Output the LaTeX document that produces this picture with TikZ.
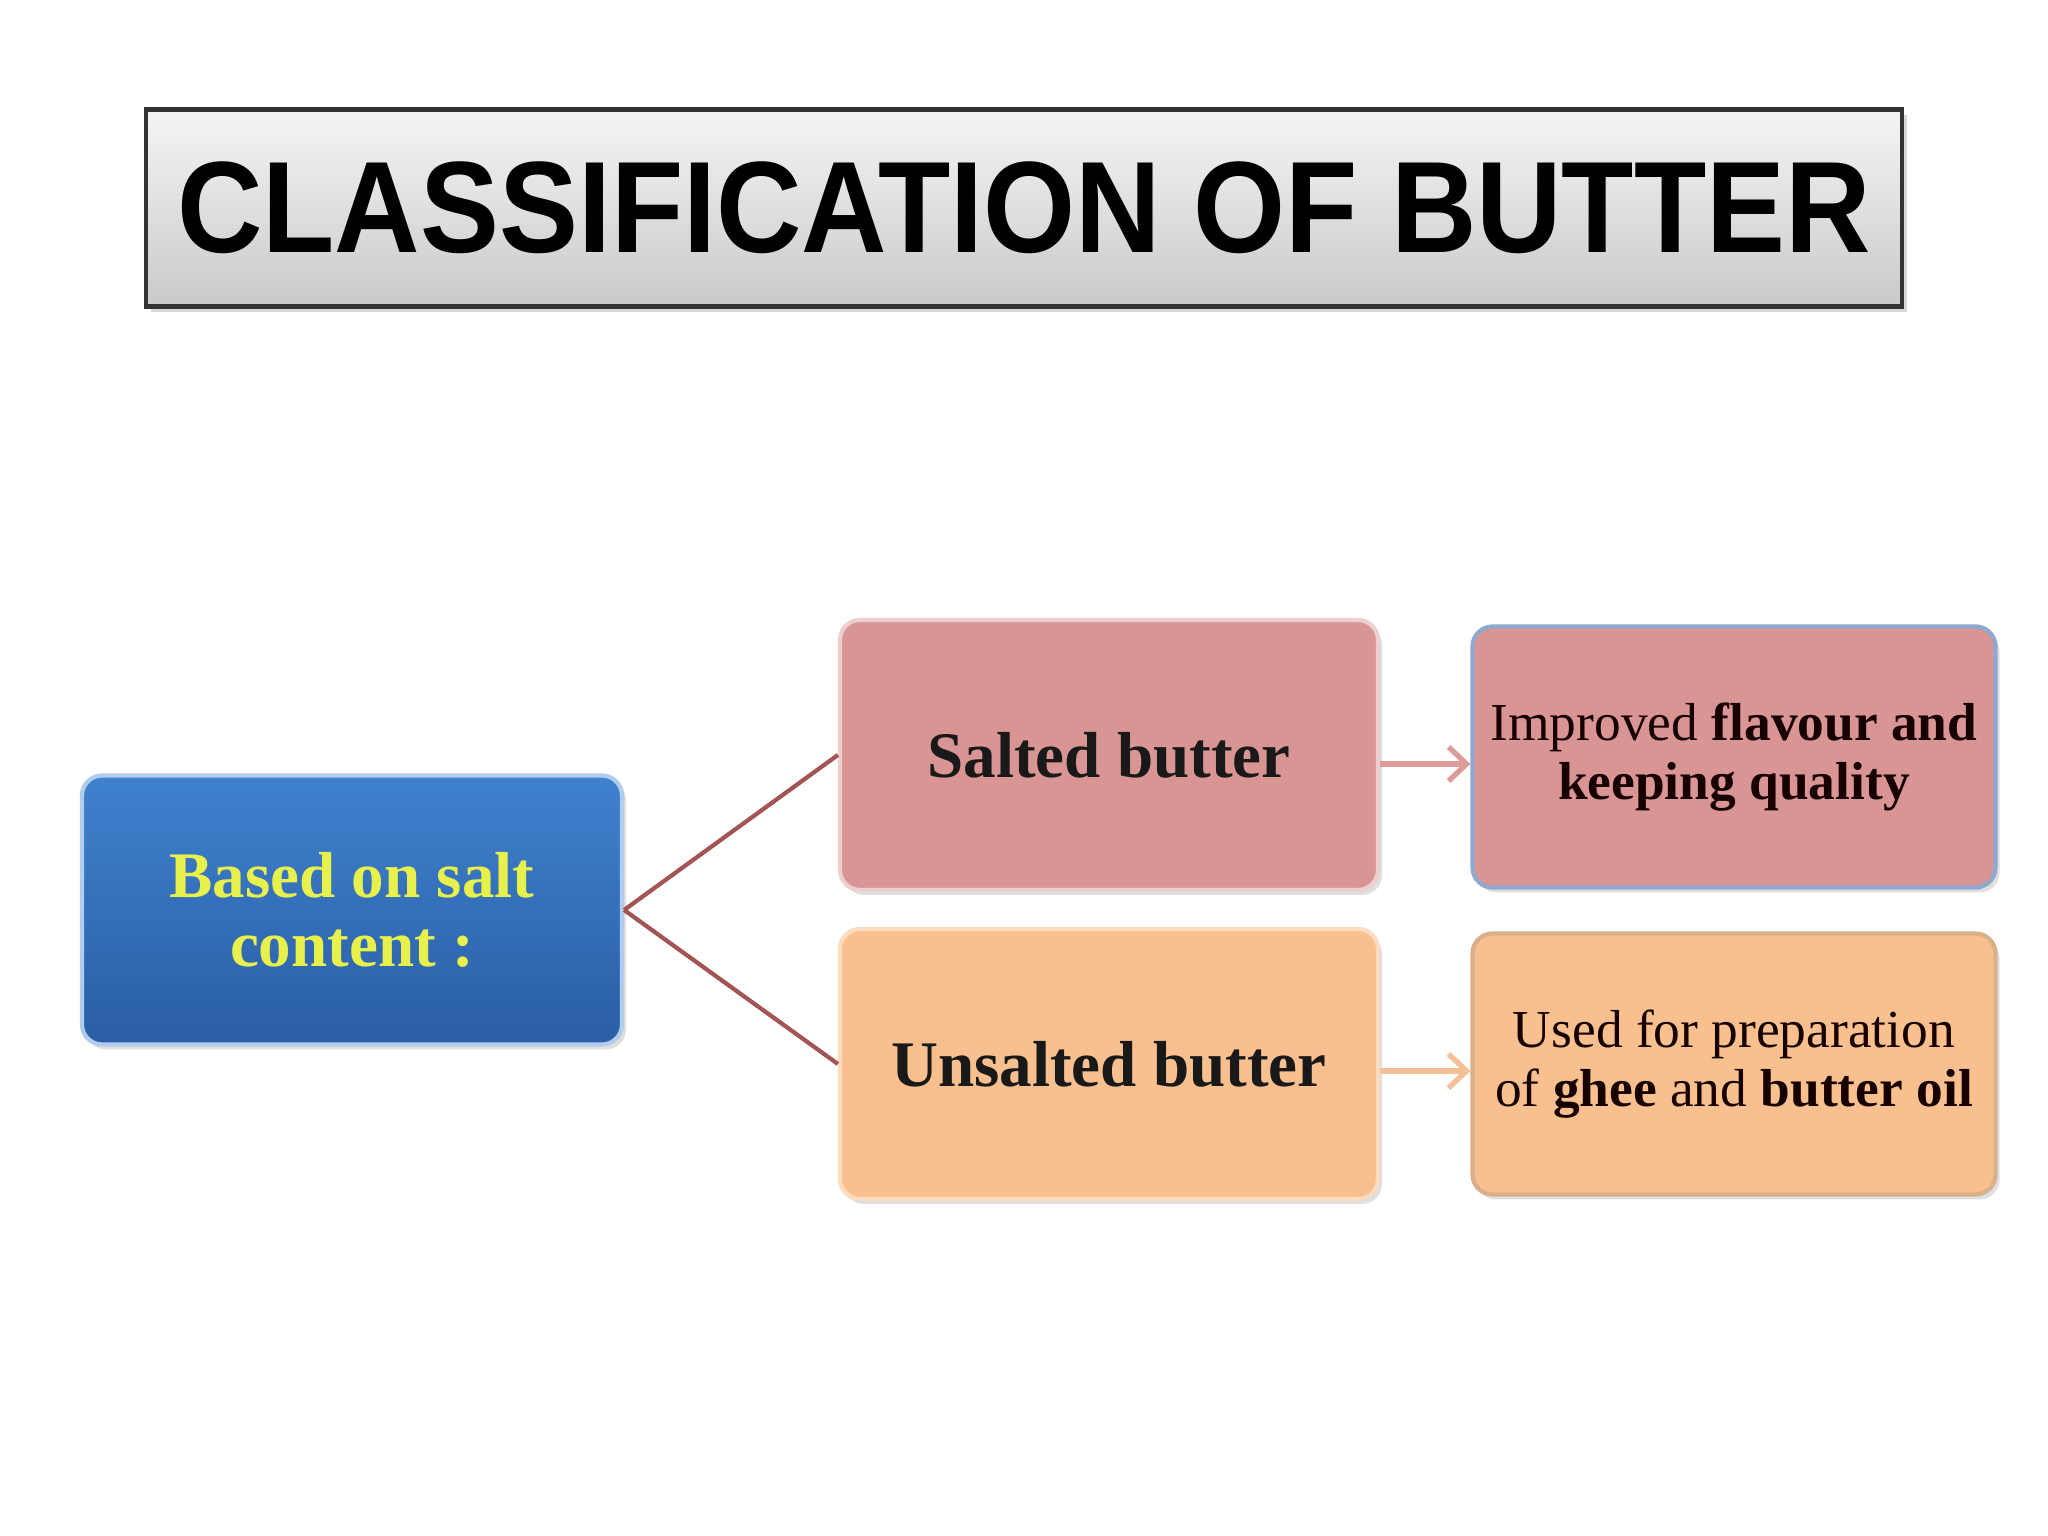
\documentclass[tikz,border=0pt]{standalone}
\usepackage{fontspec}
\usepackage{graphicx}
\setmainfont{Liberation Serif}
\newfontfamily\titlefont{Liberation Sans}
\usetikzlibrary{arrows.meta}
\usetikzlibrary{positioning}
\usetikzlibrary{shadows}

\definecolor{saltedfill}{HTML}{D99594}
\definecolor{unsaltedfill}{HTML}{F8C08F}
\definecolor{basedtop}{HTML}{3F82CE}
\definecolor{basedbot}{HTML}{2A5DA5}
\definecolor{basedtext}{HTML}{E8F04C}
\definecolor{branchline}{HTML}{A35556}
\definecolor{saltedarrow}{HTML}{DC9C9A}
\definecolor{unsaltedarrow}{HTML}{F4BE96}
\definecolor{improvededge}{HTML}{8FA8CE}

\tikzset{
    box/.style={rounded corners=0.2cm, minimum width=5.38cm, minimum height=2.7cm,
        inner sep=0pt, align=center, line width=1.2pt,
        drop shadow={shadow xshift=0.04cm, shadow yshift=-0.05cm, opacity=0.25}},
    small box/.style={box, minimum width=5.23cm, minimum height=2.61cm},
    big text/.style={font=\bfseries\fontsize{18.5}{19.5}\selectfont},
    note text/.style={font=\fontsize{15.2}{16.6}\selectfont, text=black!85!red!60!black},
    branch/.style={draw=branchline, line width=1.2pt},
    link/.style={line width=1.5pt, -{Straight Barb[length=0.18cm, width=0.34cm]}}
}

\begin{document}
\begin{tikzpicture}
    \useasboundingbox [fill=white] (0, 0) rectangle (20.48, 15.36);

    % heading
    \node (title) [draw=black!80, line width=1.2pt, top color=gray!8, bottom color=gray!42,
        minimum width=17.56cm, minimum height=1.97cm, inner sep=0pt,
        drop shadow={shadow xshift=0.05cm, shadow yshift=-0.06cm, opacity=0.3}]
        at (10.24, 13.28) {\titlefont\bfseries\fontsize{37}{40}\selectfont\scalebox{0.91}[1]{CLASSIFICATION OF BUTTER}};

    % boxes
    \node (based) [box, draw=basedtop!40!white, top color=basedtop, bottom color=basedbot,
        minimum width=5.40cm, minimum height=2.69cm, big text, text=basedtext]
        at (3.52, 6.26) {Based on salt\\content :};
    \node (salted) [box, draw=saltedfill!45!white, fill=saltedfill, big text, text=black!90]
        at (11.09, 7.81) {Salted butter};
    \node (unsalted) [box, draw=unsaltedfill!55!white, fill=unsaltedfill, big text, text=black!90]
        at (11.09, 4.72) {Unsalted butter};
    \node (improved) [small box, draw=improvededge, fill=saltedfill, note text]
        at (17.34, 7.79) {Improved \textbf{flavour and}\\\textbf{keeping quality}};
    \node (used) [small box, draw=unsaltedfill!75!gray, fill=unsaltedfill, note text]
        at (17.34, 4.72) {Used for preparation\\of \textbf{ghee} and \textbf{butter oil}};

    % connectors
    \draw [branch] (based.east) -- (salted.west);
    \draw [branch] (based.east) -- (unsalted.west);
    \draw [link, saltedarrow] ([yshift=-0.09cm]salted.east) -- ([yshift=-0.09cm]salted.east -| improved.west);
    \draw [link, unsaltedarrow] ([yshift=-0.07cm]unsalted.east) -- ([yshift=-0.07cm]unsalted.east -| used.west);
\end{tikzpicture}
\end{document}
